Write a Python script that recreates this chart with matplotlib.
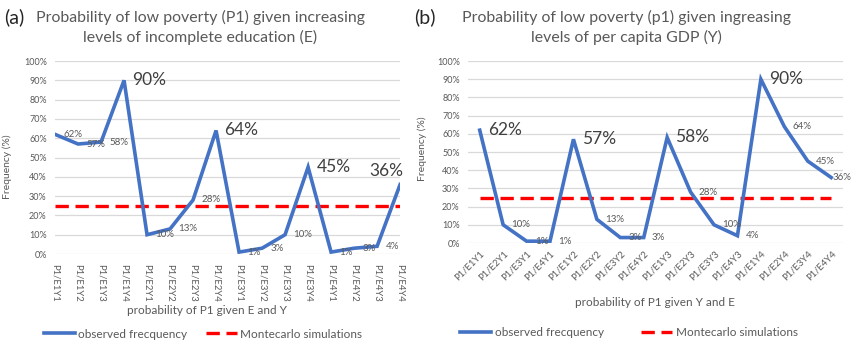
import matplotlib
matplotlib.use("Agg")
import matplotlib.pyplot as plt
from matplotlib.ticker import FuncFormatter

plt.rcParams['font.family'] = ['Lato', 'DejaVu Sans']

# Panel (a): ordered by education level E, then GDP level Y
cats_a = ["P1/E1Y1", "P1/E1Y2", "P1/E1Y3", "P1/E1Y4",
          "P1/E2Y1", "P1/E2Y2", "P1/E2Y3", "P1/E2Y4",
          "P1/E3Y1", "P1/E3Y2", "P1/E3Y3", "P1/E3Y4",
          "P1/E4Y1", "P1/E4Y2", "P1/E4Y3", "P1/E4Y4"]
obs_a = [62, 57, 58, 90, 10, 13, 28, 64, 1, 3, 10, 45, 1, 3, 4, 36]
big_a = [False, False, False, True, False, False, False, True,
         False, False, False, True, False, False, False, True]

# Panel (b): ordered by GDP level Y, then education level E
cats_b = ["P1/E1Y1", "P1/E2Y1", "P1/E3Y1", "P1/E4Y1",
          "P1/E1Y2", "P1/E2Y2", "P1/E3Y2", "P1/E4Y2",
          "P1/E1Y3", "P1/E2Y3", "P1/E3Y3", "P1/E4Y3",
          "P1/E1Y4", "P1/E2Y4", "P1/E3Y4", "P1/E4Y4"]
obs_b = [62, 10, 1, 1, 57, 13, 3, 3, 58, 28, 10, 4, 90, 64, 45, 36]
big_b = [True, False, False, False, True, False, False, False,
         True, False, False, False, True, False, False, False]

montecarlo = 25
yticks = list(range(0, 101, 10))

BLUE = "#4472C4"
RED = "#FF0000"
GRID = "#D9D9D9"
TXT = "#595959"

fig = plt.figure(figsize=(8.52, 3.44), dpi=100)
ax_a = fig.add_axes([0.0646, 0.2616, 0.405, 0.561])
ax_b = fig.add_axes([0.5493, 0.2936, 0.440, 0.529])


def style(ax, cats, obs, big, xlim, rot):
    x = list(range(len(cats)))
    ax.plot(x, obs, color=BLUE, lw=2.6, solid_joinstyle='miter',
            label="observed frecquency", zorder=3)
    ax.plot(x, [montecarlo] * len(x), color=RED, lw=2.4,
            dashes=(4, 2), label="Montecarlo simulations", zorder=2)
    ax.set_ylim(0, 100)
    ax.set_xlim(*xlim)
    ax.set_yticks(yticks)
    ax.yaxis.set_major_formatter(FuncFormatter(lambda v, p: f"{v:.0f}%"))
    ax.set_xticks(x)
    ax.grid(axis='y', color=GRID, lw=0.9)
    ax.set_axisbelow(True)
    for s in ax.spines.values():
        s.set_visible(False)
    ax.tick_params(length=0, colors=TXT, labelsize=6.5)
    ax.tick_params(axis='y', pad=6)
    if rot == -90:
        ax.set_xticklabels(cats, rotation=-90, ha='center', va='top',
                           fontsize=6.8, color=TXT)
        ax.tick_params(axis='x', pad=7)
    else:
        ax.set_xticklabels(cats, rotation=45, ha='right', va='top',
                           rotation_mode='anchor', fontsize=6.8, color=TXT)
        ax.tick_params(axis='x', pad=4)
    for xi, v, b in zip(x, obs, big):
        ax.annotate(f"{v}%", (xi, v), xytext=(6, 0), textcoords='offset points',
                    ha='left', va='center', fontsize=12.5 if b else 7,
                    color="#404040" if b else TXT, zorder=4)


style(ax_a, cats_a, obs_a, big_a, (0, 15), -90)
style(ax_b, cats_b, obs_b, big_b, (-0.5, 15.5), 45)

# Last label of panel (a) sits above-left of its point
for t in ax_a.texts:
    if t.get_text() == "36%" and t.get_fontsize() > 10:
        t.set_position((-22, 10))
# Last label of panel (b) hugs its point at the right edge
for t in ax_b.texts:
    if t.get_text() == "36%":
        t.set_position((1, 0))

ax_a.set_ylabel("Frequency (%)", color=TXT, fontsize=7.5, labelpad=6)
ax_a.yaxis.set_label_coords(-0.125, 0.45)
ax_b.set_ylabel("Frequency (%)", color=TXT, fontsize=7.5, labelpad=6)
ax_b.yaxis.set_label_coords(-0.11, 0.52)

fig.text(207 / 852, 1 - 311 / 344, "probability of P1 given E and Y",
         ha='center', va='center', color=TXT, fontsize=8.5)
fig.text(655 / 852, 1 - 302 / 344, "probability of P1 given Y and E",
         ha='center', va='center', color=TXT, fontsize=8.5)

fig.text(200 / 852, 1 - 17 / 344, "Probability of low poverty (P1) given increasing",
         ha='center', va='center', color=TXT, fontsize=11.4)
fig.text(200 / 852, 1 - 37 / 344, "levels of incomplete education (E)",
         ha='center', va='center', color=TXT, fontsize=11.4)
fig.text(626 / 852, 1 - 17 / 344, "Probability of low poverty (p1) given ingreasing",
         ha='center', va='center', color=TXT, fontsize=11.4)
fig.text(626 / 852, 1 - 37 / 344, "levels of per capita GDP (Y)",
         ha='center', va='center', color=TXT, fontsize=11.4)
fig.text(4 / 852, 1 - 17 / 344, "(a)", ha='left', va='center',
         color="#262626", fontsize=14)
fig.text(414 / 852, 1 - 17 / 344, "(b)", ha='left', va='center',
         color="#262626", fontsize=14)

for ax, cx, cy, gap in [(ax_a, 203, 334, 1.6), (ax_b, 629, 333, 3.2)]:
    h, l = ax.get_legend_handles_labels()
    fig.legend(h, l, loc='center', bbox_to_anchor=(cx / 852, 1 - cy / 344),
               ncol=2, frameon=False, fontsize=8.5, labelcolor=TXT,
               handlelength=2.6, handletextpad=0.3, columnspacing=gap)

fig.savefig("out.png", dpi=100)
